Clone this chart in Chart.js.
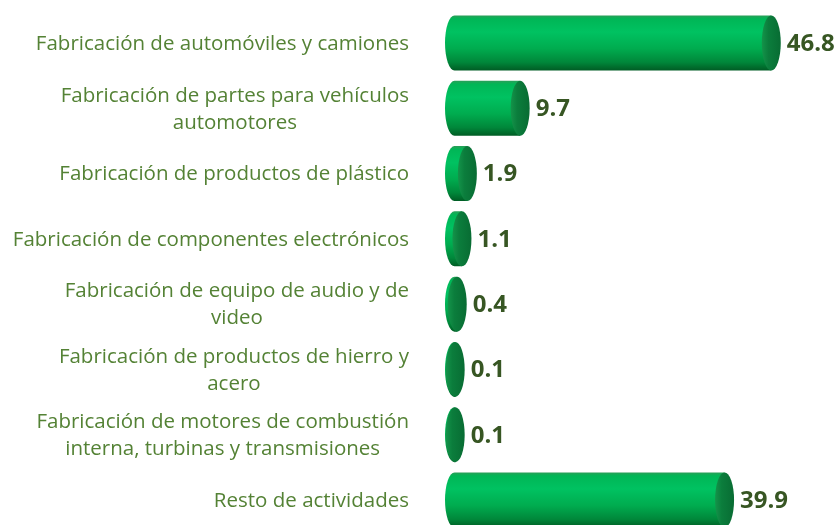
<!DOCTYPE html>
<html>
<head>
<meta charset="utf-8">
<script src="https://cdn.jsdelivr.net/npm/chart.js@4"></script>
<style>
    body { margin: 0; background: #ffffff; }
</style>
</head>
<body>
<canvas id="chart" width="837" height="525"></canvas>
<script>
// categories, one array per label line
var CATEGORIES = [
    ["Fabricación de automóviles y camiones"],
    ["Fabricación de partes para vehículos", "automotores"],
    ["Fabricación de productos de plástico"],
    ["Fabricación de componentes electrónicos"],
    ["Fabricación de equipo de audio y de", "video"],
    ["Fabricación de productos de hierro y", "acero"],
    ["Fabricación de motores de combustión", "interna, turbinas y transmisiones"],
    ["Resto de actividades"]
];
var VALUES = [46.8, 9.7, 1.9, 1.1, 0.4, 0.1, 0.1, 39.9];
var VALUE_LABELS = ["46.8", "9.7", "1.9", "1.1", "0.4", "0.1", "0.1", "39.9"];

const LABEL_COLOR = "#548235";
const VALUE_COLOR = "#375623";
const LABEL_FONT = "20.5px 'Open Sans'";
const VALUE_FONT = "bold 24px 'Open Sans'";
const LABEL_RIGHT = 409;
const LINE_HEIGHT = 27;
const CAP_RX = 9.5;


// vertical gradient for the body of a cylinder
function bodyGradient(ctx, top, bottom) {
    var g = ctx.createLinearGradient(0, top, 0, bottom);
    g.addColorStop(0, "#2a9e58");
    g.addColorStop(0.06, "#00b656");
    g.addColorStop(0.3, "#00c261");
    g.addColorStop(0.6, "#00ac4f");
    g.addColorStop(0.85, "#00873a");
    g.addColorStop(1, "#005c24");
    return g;
}


// draws each bar as a cylinder: rounded back end, body and front cap
var cylinderPlugin = {
    id: "cylinders",
    afterDatasetsDraw: function (chart) {
        var ctx = chart.ctx;
        var meta = chart.getDatasetMeta(0);
        ctx.save();
        meta.data.forEach(function (bar, i) {
            var half = bar.height / 2;
            var top = bar.y - half;
            var bottom = bar.y + half;

            // body with the left half of the back ellipse, in one path (no seam)
            ctx.fillStyle = bodyGradient(ctx, top, bottom);
            ctx.beginPath();
            ctx.moveTo(bar.x, top);
            ctx.lineTo(bar.base, top);
            ctx.ellipse(bar.base, bar.y, CAP_RX, half, 0, Math.PI * 1.5, Math.PI / 2, true);
            ctx.lineTo(bar.x, bottom);
            ctx.closePath();
            ctx.fill();

            // front cap
            var cap = ctx.createLinearGradient(bar.x - CAP_RX, 0, bar.x + CAP_RX, 0);
            cap.addColorStop(0, "#14944a");
            cap.addColorStop(0.35, "#0b7d3c");
            cap.addColorStop(1, "#086c33");
            ctx.fillStyle = cap;
            ctx.beginPath();
            ctx.ellipse(bar.x, bar.y, CAP_RX, half, 0, 0, Math.PI * 2);
            ctx.fill();

            // value label
            ctx.fillStyle = VALUE_COLOR;
            ctx.font = VALUE_FONT;
            ctx.textAlign = "left";
            ctx.textBaseline = "middle";
            ctx.fillText(VALUE_LABELS[i], bar.x + CAP_RX + 6, bar.y + 1);
        });
        ctx.restore();
    }
};


// category labels: block right aligned, lines centered inside the block
var labelPlugin = {
    id: "categoryLabels",
    afterDraw: function (chart) {
        var ctx = chart.ctx;
        var yScale = chart.scales.y;
        ctx.save();
        ctx.font = LABEL_FONT;
        ctx.fillStyle = LABEL_COLOR;
        ctx.textAlign = "center";
        ctx.textBaseline = "middle";
        CATEGORIES.forEach(function (lines, i) {
            var y = yScale.getPixelForTick(i);
            var maxW = 0;
            lines.forEach(function (l) { maxW = Math.max(maxW, ctx.measureText(l).width); });
            var cx = LABEL_RIGHT - maxW / 2;
            var y0 = y + 1 - (lines.length - 1) * LINE_HEIGHT / 2;
            lines.forEach(function (l, j) {
                ctx.fillText(l, cx, y0 + j * LINE_HEIGHT);
            });
        });
        ctx.restore();
    }
};


var chart = new Chart(document.getElementById("chart"), {
    type: "bar",
    data: {
        labels: CATEGORIES,
        datasets: [{
            data: VALUES,
            backgroundColor: "rgba(0,0,0,0)",
            barThickness: 55,
            clip: false
        }]
    },
    options: {
        indexAxis: "y",
        responsive: false,
        animation: false,
        layout: {
            padding: { left: 454.5, right: 17, top: 43, bottom: 25 }
        },
        plugins: {
            legend: { display: false },
            tooltip: { enabled: false }
        },
        scales: {
            x: { display: false, min: 0, max: 54 },
            y: { display: false, offset: false }
        }
    },
    plugins: [cylinderPlugin, labelPlugin]
});
</script>
</body>
</html>
